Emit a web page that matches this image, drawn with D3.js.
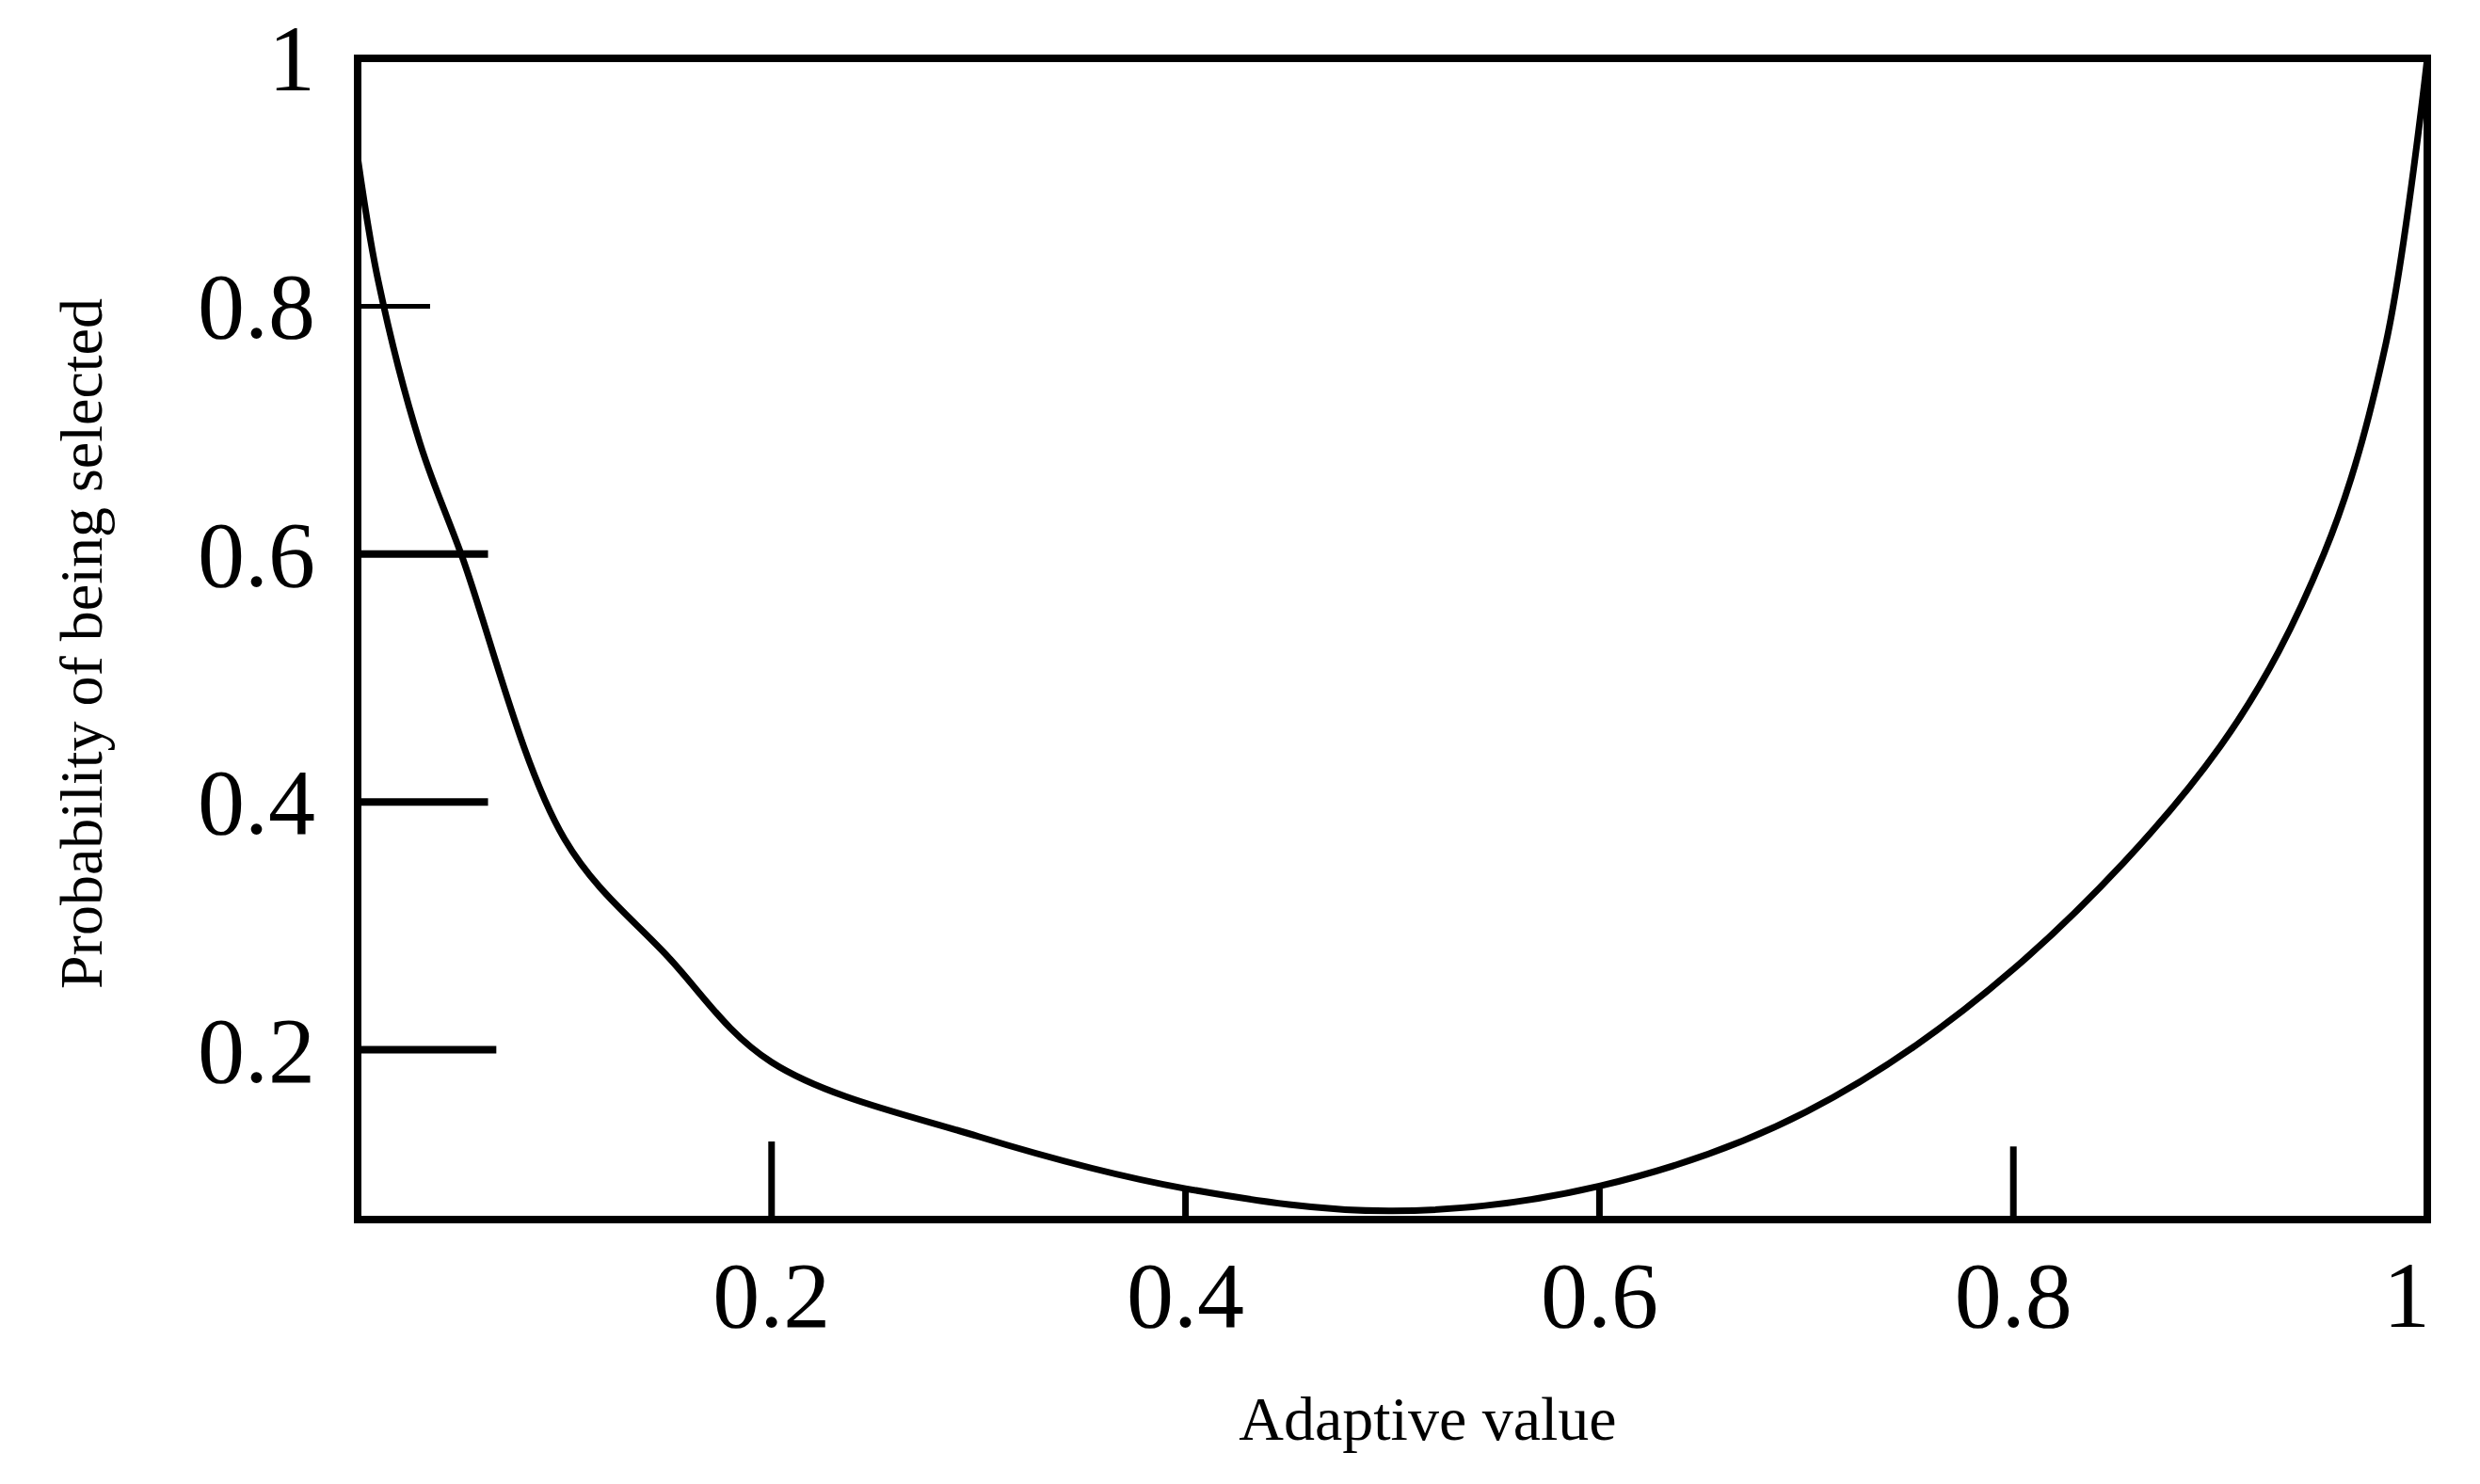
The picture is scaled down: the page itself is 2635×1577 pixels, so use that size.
<!DOCTYPE html><html><head><meta charset="utf-8">
<script src="https://cdn.jsdelivr.net/npm/d3@7"></script>
<style>body{margin:0;background:#fff}text{font-family:"Liberation Serif","Times New Roman",serif;fill:#000}</style>
</head><body><svg id="c" width="2635" height="1577"></svg>
<script>
const curveX=[0,0.01,0.03,0.05,0.1,0.15,0.2,0.3,0.4,0.5,0.6,0.7,0.8,0.9,0.95,0.98,1];
const curveY=[0.92,0.82,0.69,0.6,0.37,0.275,0.19,0.13,0.088,0.07,0.09,0.15,0.265,0.445,0.6,0.77,1];
const yTicks=[0.2,0.4,0.6,0.8,1];
const yTickLen=[0.067,0.063,0.063,0.035,0];
const xTicks=[0.2,0.4,0.6,0.8,1];
const xTickLen=[0.063,0.025,0.025,0.059,0];
const svg=d3.select("#c");
const L=380,R=2579,T=62,B=1296;
const x=d3.scaleLinear().domain([0,1]).range([L,R]);
const y=d3.scaleLinear().domain([0.063,1]).range([B,T]);
svg.append("rect").attr("x",L).attr("y",T).attr("width",R-L).attr("height",B-T).attr("fill","none").attr("stroke","#000").attr("stroke-width",8);
yTicks.forEach((t,i)=>{
 if(yTickLen[i]>0) svg.append("line").attr("x1",L).attr("x2",x(yTickLen[i])).attr("y1",y(t)).attr("y2",y(t)).attr("stroke","#000").attr("stroke-width",i==3?5:8);
 svg.append("text").attr("x",335).attr("y",y(t)+34).attr("text-anchor","end").attr("font-size",100).text(d3.format("")(t));
});
xTicks.forEach((t,i)=>{
 if(xTickLen[i]>0) svg.append("line").attr("x1",x(t)).attr("x2",x(t)).attr("y1",B).attr("y2",y(0.063+xTickLen[i])).attr("stroke","#000").attr("stroke-width",7);
 svg.append("text").attr("x",x(t)-(t==1?22:0)).attr("y",1410).attr("text-anchor","middle").attr("font-size",100).text(d3.format("")(t));
});
svg.append("text").attr("x",1517).attr("y",1530).attr("text-anchor","middle").attr("font-size",66).text("Adaptive value");
svg.append("text").attr("transform","translate(108,684) rotate(-90)").attr("text-anchor","middle").attr("font-size",64).text("Probability of being selected");
const pts=curveX.map((v,i)=>[v,curveY[i]]);
svg.append("path").attr("d",d3.line().x(d=>x(d[0])).y(d=>y(d[1])).curve(d3.curveCatmullRom)(pts)).attr("fill","none").attr("stroke","#000").attr("stroke-width",7);
</script></body></html>
